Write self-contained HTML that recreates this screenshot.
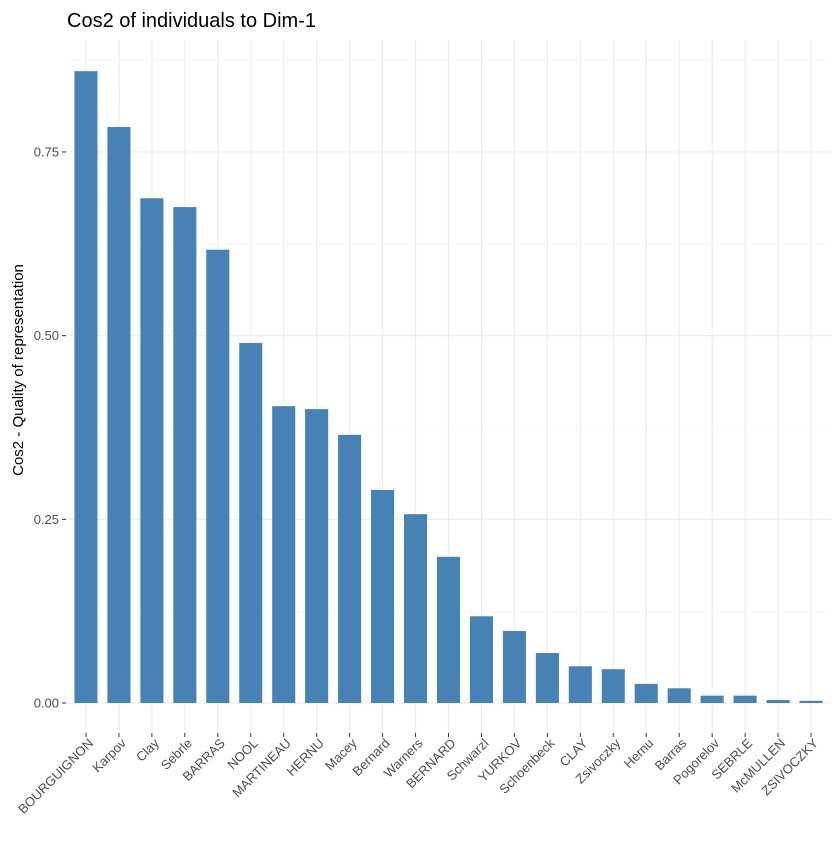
<!DOCTYPE html>
<html><head><meta charset="utf-8"><style>
body{margin:0;background:#fff;}
svg text{font-family:"Liberation Sans",Arial,sans-serif;}
</style></head><body>
<svg id="chart" width="840" height="840" xmlns="http://www.w3.org/2000/svg">
<rect width="840" height="840" fill="#fff"/>
<text x="67" y="27" font-size="20" fill="#000">Cos2 of individuals to Dim-1</text>
<text transform="translate(23,370) rotate(-90)" text-anchor="middle" font-size="15" fill="#000">Cos2 - Quality of representation</text>
<g id="grid"></g><g id="bars"></g><g id="yticks"></g><g id="xticks"></g>
</svg>
<script>
const categories=["BOURGUIGNON","Karpov","Clay","Sebrle","BARRAS","NOOL","MARTINEAU","HERNU","Macey","Bernard","Warners","BERNARD","Schwarzl","YURKOV","Schoenbeck","CLAY","Zsivoczky","Hernu","Barras","Pogorelov","SEBRLE","McMULLEN","ZSIVOCZKY"];
const values=[0.860,0.784,0.687,0.675,0.617,0.490,0.404,0.400,0.365,0.290,0.257,0.199,0.118,0.098,0.068,0.050,0.046,0.026,0.020,0.010,0.010,0.004,0.003];
const yTicks=[0,0.25,0.5,0.75];
const yTickLabels=["0.00","0.25","0.50","0.75"];
const NS="http://www.w3.org/2000/svg";
const pL=66.2,pR=830.8,pT=40,pB=733;
const y0=703,yScale=734.7;
const y=v=>y0-v*yScale;
const step=(pR-pL)/(categories.length-1+1.2);
const x=i=>pL+step*(0.6+i);
const bw=step*0.7;
function mk(t,a,p){const e=document.createElementNS(NS,t);for(const k in a)e.setAttribute(k,a[k]);p.appendChild(e);return e;}
const grid=document.getElementById('grid'),bars=document.getElementById('bars'),yt=document.getElementById('yticks'),xt=document.getElementById('xticks');
for(let i=0;i<yTicks.length;i++){const m=yTicks[i]+0.125;const yy=y(m);if(yy>pT){const l=mk('line',{x1:pL,x2:pR,y1:yy,y2:yy,stroke:'#f2f2f2','stroke-width':0.6},grid);}}
yTicks.forEach((v,i)=>{const yy=y(v);
const l=mk('line',{x1:pL,x2:pR,y1:yy,y2:yy,stroke:'#ebebeb','stroke-width':1.1},grid);

const tk=mk('line',{x1:62,x2:66,y1:yy,y2:yy,stroke:'#333','stroke-width':1},yt);

const t=mk('text',{x:59,y:yy+4.5,'text-anchor':'end','font-size':13,fill:'#4d4d4d'},yt);t.textContent=yTickLabels[i];
});
categories.forEach((c,i)=>{const cx=x(i);
const g=mk('line',{x1:cx,x2:cx,y1:pT,y2:pB,stroke:'#ebebeb','stroke-width':1.1},grid);

const r=mk('rect',{x:cx-bw/2,y:y(values[i]),width:bw,height:y0-y(values[i]),fill:'#4682b4'},bars);

const tk=mk('line',{x1:cx,x2:cx,y1:pB,y2:pB+4,stroke:'#333','stroke-width':1},xt);

const t=mk('text',{transform:`translate(${cx+8},${pB+11}) rotate(-45)`,'text-anchor':'end','font-size':13,fill:'#4d4d4d'},xt);t.textContent=c;
});
</script>
</body></html>
